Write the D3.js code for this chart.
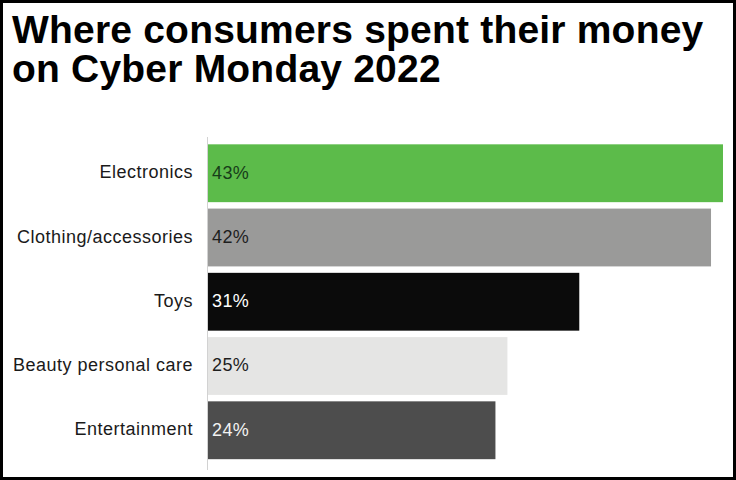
<!DOCTYPE html>
<html>
<head>
<meta charset="utf-8">
<script src="https://cdn.jsdelivr.net/npm/d3@7"></script>
<style>
  html, body { margin: 0; padding: 0; background: #fff; }
  svg { display: block; }
</style>
</head>
<body>
<svg id="chart" width="736" height="480"></svg>
<script>
const titleLines = ["Where consumers spent their money", "on Cyber Monday 2022"];
const categories = ["Electronics", "Clothing/accessories", "Toys", "Beauty personal care", "Entertainment"];
const values = [43, 42, 31, 25, 24];
const barColors = ["#5cbb4a", "#9a9a99", "#0b0b0b", "#e5e5e4", "#4d4d4d"];
const labelColors = ["#173d19", "#1e1e1e", "#ffffff", "#1e1e1e", "#f2f2f2"];

const svg = d3.select("#chart");
const W = 736, H = 480;

svg.append("rect").attr("width", W).attr("height", H).attr("fill", "#fff");

// title
svg.append("g").selectAll("text").data(titleLines).join("text")
  .attr("x", 12)
  .attr("y", (d, i) => 43 + i * 39)
  .attr("font-family", "'Liberation Sans', Arial, sans-serif")
  .attr("font-weight", "bold")
  .attr("font-size", 39)
  .attr("letter-spacing", 0.2)
  .attr("fill", "#000")
  .text(d => d);

const x = d3.scaleLinear().domain([0, 43]).range([208, 723]);
const y = d3.scaleBand().domain(categories).range([137.9, 465.6]).paddingInner(0.1).paddingOuter(0.1);

// axis line
svg.append("line")
  .attr("x1", 207.5).attr("x2", 207.5)
  .attr("y1", 137).attr("y2", 470)
  .attr("stroke", "#d2d2d2").attr("stroke-width", 1);

const data = categories.map((c, i) => ({ c, v: values[i], color: barColors[i], lc: labelColors[i] }));

svg.append("g").selectAll("rect").data(data).join("rect")
  .attr("x", x(0))
  .attr("y", d => y(d.c))
  .attr("width", d => x(d.v) - x(0))
  .attr("height", y.bandwidth())
  .attr("fill", d => d.color);

// category labels
const yAxis = d3.axisLeft(y).tickSize(0).tickPadding(0);
const ga = svg.append("g").attr("transform", "translate(193,0)").call(yAxis);
ga.select(".domain").remove();
ga.selectAll("text")
  .attr("font-family", "'Liberation Sans', Arial, sans-serif")
  .attr("font-size", 18)
  .attr("letter-spacing", 0.5)
  .attr("fill", "#1a1a1a")
  .attr("dy", "0.28em");

// value labels
svg.append("g").selectAll("text").data(data).join("text")
  .attr("x", x(0) + 4)
  .attr("y", d => y(d.c) + y.bandwidth() / 2)
  .attr("dy", "0.3em")
  .attr("font-family", "'Liberation Sans', Arial, sans-serif")
  .attr("font-size", 18)
  .attr("letter-spacing", 0.4)
  .attr("fill", d => d.lc)
  .text(d => d.v + "%");

// border
svg.append("rect")
  .attr("x", 1.5).attr("y", 1.5)
  .attr("width", W - 3).attr("height", H - 3)
  .attr("fill", "none").attr("stroke", "#000").attr("stroke-width", 3);
</script>
</body>
</html>
